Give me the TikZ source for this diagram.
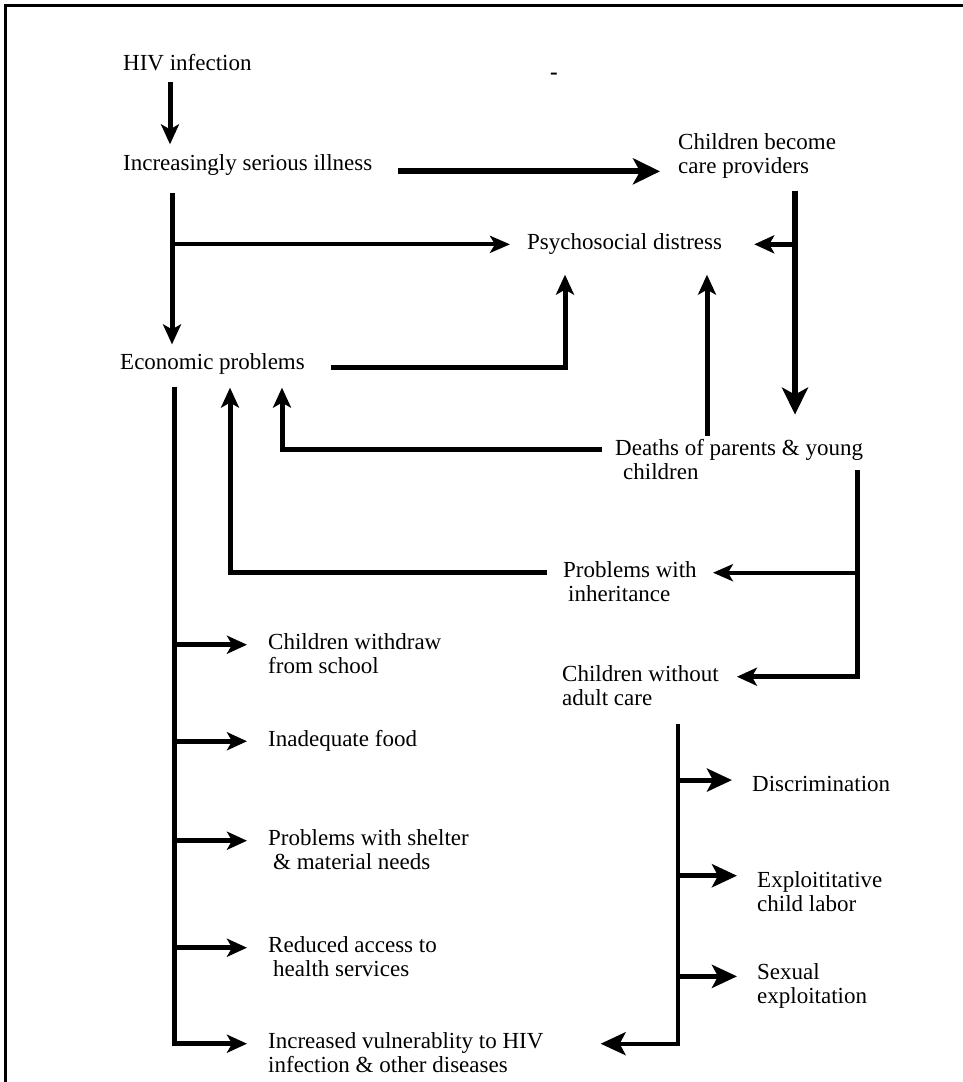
\documentclass[tikz,border=0pt]{standalone}
\usepackage{fontspec}
\setmainfont{Liberation Serif}
\usetikzlibrary{arrows.meta,calc}

\begin{document}
\begin{tikzpicture}[x=1pt,y=1pt,yscale=-1,xscale=1,
  txt/.style={anchor=west,inner sep=0pt,align=left,font=\fontsize{23pt}{24pt}\selectfont},
  trunk/.style={line width=5pt,line join=miter},
  arr/.style={trunk,-{Stealth[length=20pt,width=18pt,inset=5pt]}},
  wideArr/.style={trunk,-{Stealth[length=25pt,width=23pt,inset=6pt]}},
  bigarr/.style={line width=6pt,line join=miter,-{Stealth[length=27pt,width=26pt,inset=7pt]}},
  thinarr/.style={line width=4pt,line join=miter,-{Stealth[length=20pt,width=17pt,inset=5pt]}}]
\useasboundingbox (0,0) rectangle (963,1082);

%Frame
\draw[line width=3pt] (5.5,1082) -- (5.5,5.5) -- (963,5.5);

% Text Nodes
\node[txt] (hiv) at (123,63) {HIV infection};
\node[txt] (ill) at (123,165) {Increasingly serious illness};
\node[txt] (care) at (678,156) {Children become\\care providers};
\node[txt] (psy) at (527,244) {Psychosocial distress};
\node[txt] (econ) at (120,364) {Economic problems};
\node[txt] (death) at (615,460) {Deaths of parents \& young\\\hspace*{8pt}children};
\node[txt] (inher) at (563,582) {Problems with\\\hspace*{5pt}inheritance};
\node[txt] (alone) at (562,686) {Children without\\adult care};
\node[txt] (school) at (268,654) {Children withdraw\\from school};
\node[txt] (food) at (268,741) {Inadequate food};
\node[txt] (shelter) at (268,850) {Problems with shelter\\\hspace*{5pt}\& material needs};
\node[txt] (health) at (268,957) {Reduced access to\\\hspace*{5pt}health services};
\node[txt] (vuln) at (268,1053) {Increased vulnerablity to HIV\\infection \& other diseases};
\node[txt] (discr) at (752,784) {Discrimination};
\node[txt] (labor) at (757,892) {Exploititative\\child labor};
\node[txt] (sexual) at (757,986) {Sexual\\exploitation};
\node[txt] (dash) at (550,76) {\textbf{-}};

% Columns of the connectors
\coordinate (cHiv) at (170,0);
\coordinate (cIll) at (172,0);
\coordinate (cCare) at (795,0);
\coordinate (cEconPsy) at (565,0);
\coordinate (cDeathPsy) at (707,0);
\coordinate (cDeathEcon) at (282,0);
\coordinate (cInherEcon) at (230,0);
\coordinate (cEcon) at (174,0);
\coordinate (cDeath) at (857,0);
\coordinate (cAlone) at (678,0);

% Ports on the text lines
\path (ill.north west) ++(0,17) coordinate (illOut);
\path (psy.north west) ++(0,11) coordinate (psyIn);
\path (econ.north west) ++(0,14) coordinate (econOut);
\path (death.north west) ++(0,10) coordinate (deathOut);
\path (inher.north west) ++(0,11) coordinate (inherIn);
\path (alone.north west) ++(0,11) coordinate (aloneIn);
\path (death.south -| cDeath) ++(0,-10) coordinate (deathDown);
\foreach \t in {school,food,shelter,health,vuln}
  \path (\t.north west) ++(0,11) coordinate (\t-in);
\path (discr.north west) ++(0,4) coordinate (discr-in);
\path (labor.north west) ++(0,4) coordinate (labor-in);
\path (sexual.north west) ++(0,13) coordinate (sexual-in);

% Connections
\draw[arr,shorten <=11pt,shorten >=10pt] (hiv.south -| cHiv) -- (ill.north -| cHiv);
\draw[bigarr,shorten <=25pt,shorten >=18pt] (ill.east |- illOut) -- (care.west |- illOut);
\draw[arr,shorten <=17pt,shorten >=9pt] (ill.south -| cIll) -- (econ.north -| cIll);
\draw[thinarr,shorten >=17pt] (cIll |- psyIn) -- (psyIn);
\draw[bigarr,shorten <=12pt,shorten >=25pt] (care.south -| cCare) -- (death.north -| cCare);
\draw[arr,shorten >=32pt] (cCare |- psyIn) -- (psy.east |- psyIn);
\draw[arr,shorten <=26pt,shorten >=20pt] (econ.east |- econOut) -| (psy.south -| cEconPsy);
\draw[arr,shorten <=4pt,shorten >=20pt] (death.north -| cDeathPsy) -- (psy.south -| cDeathPsy);
\draw[arr,shorten <=13pt,shorten >=13pt] (deathOut) -| (econ.south -| cDeathEcon);
\draw[arr,shorten >=18pt] (deathDown) |- (alone.east |- aloneIn);
\draw[thinarr,shorten >=16pt] (cDeath |- inherIn) -- (inher.east |- inherIn);
\draw[arr,shorten <=16pt,shorten >=13pt] (inherIn) -| (econ.south -| cInherEcon);

% Economic problems -> consequences
\draw[arr,shorten <=12pt,shorten >=21pt] (econ.south -| cEcon) |- (vuln-in);
\foreach \t in {school,food,shelter,health}
  \draw[arr,shorten >=21pt] (cEcon |- \t-in) -- (\t-in);

% Children without adult care -> consequences
\draw[wideArr,line width=4pt,shorten <=18pt,shorten >=57pt] (alone.south -| cAlone) |- (vuln.east |- vuln-in);
\foreach \t in {discr,labor,sexual}
  \draw[wideArr,shorten >=20pt] (cAlone |- \t-in) -- (\t-in);

\end{tikzpicture}
\end{document}
